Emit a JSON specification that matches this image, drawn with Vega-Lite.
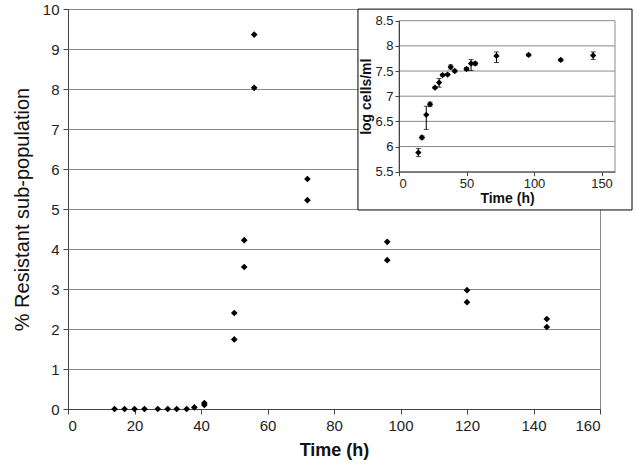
{
  "$schema": "https://vega.github.io/schema/vega-lite/v6.json",
  "width": 532,
  "height": 400,
  "autosize": "none",
  "padding": {"left": 68, "top": 9, "right": 36, "bottom": 57},
  "background": "white",
  "config": {
    "font": "Liberation Sans",
    "view": {"stroke": "#8a8a8a", "strokeWidth": 1},
    "axis": {"labelColor": "#222", "titleColor": "#111", "domainColor": "#444", "tickColor": "#444", "gridColor": "#8a8a8a", "gridOpacity": 1}
  },
  "datasets": {
    "main": [
      {"t": 14, "v": 0}, {"t": 17, "v": 0}, {"t": 20, "v": 0}, {"t": 23, "v": 0},
      {"t": 27, "v": 0}, {"t": 30, "v": 0}, {"t": 32.7, "v": 0}, {"t": 35.7, "v": 0},
      {"t": 38, "v": 0.04}, {"t": 41, "v": 0.1}, {"t": 41, "v": 0.15},
      {"t": 50, "v": 2.4}, {"t": 50, "v": 1.74},
      {"t": 53, "v": 4.22}, {"t": 53, "v": 3.55},
      {"t": 56, "v": 9.36}, {"t": 56, "v": 8.03},
      {"t": 72, "v": 5.75}, {"t": 72, "v": 5.22},
      {"t": 96, "v": 4.18}, {"t": 96, "v": 3.72},
      {"t": 120, "v": 2.97}, {"t": 120, "v": 2.67},
      {"t": 144, "v": 2.25}, {"t": 144, "v": 2.05}
    ],
    "inset": [
      {"t": 14.3, "m": 5.88, "lo": 5.8, "hi": 5.96},
      {"t": 17, "m": 6.18, "lo": 6.15, "hi": 6.21},
      {"t": 20.2, "m": 6.63, "lo": 6.34, "hi": 6.8},
      {"t": 23, "m": 6.84, "lo": 6.8, "hi": 6.88},
      {"t": 26.7, "m": 7.17, "lo": 7.15, "hi": 7.19},
      {"t": 29.7, "m": 7.27, "lo": 7.18, "hi": 7.35},
      {"t": 32.3, "m": 7.42, "lo": 7.4, "hi": 7.44},
      {"t": 36, "m": 7.43, "lo": 7.41, "hi": 7.45},
      {"t": 38.3, "m": 7.58, "lo": 7.54, "hi": 7.62},
      {"t": 41.3, "m": 7.5, "lo": 7.48, "hi": 7.52},
      {"t": 50, "m": 7.54, "lo": 7.51, "hi": 7.57},
      {"t": 53.4, "m": 7.65, "lo": 7.51, "hi": 7.73},
      {"t": 56.5, "m": 7.65, "lo": 7.62, "hi": 7.68},
      {"t": 72.2, "m": 7.8, "lo": 7.67, "hi": 7.88},
      {"t": 96, "m": 7.82, "lo": 7.8, "hi": 7.84},
      {"t": 119.8, "m": 7.72, "lo": 7.7, "hi": 7.74},
      {"t": 143.8, "m": 7.81, "lo": 7.73, "hi": 7.88}
    ],
    "insetGrid": [{"g": 6}, {"g": 6.5}, {"g": 7}, {"g": 7.5}, {"g": 8}]
  },
  "layer": [
    {
      "data": {"name": "main"},
      "mark": {"type": "point", "shape": "diamond", "filled": true, "color": "black", "size": 45, "opacity": 1},
      "encoding": {
        "x": {"field": "t", "type": "quantitative",
          "scale": {"domain": [0, 160], "nice": false},
          "axis": {"title": "Time (h)", "values": [0, 20, 40, 60, 80, 100, 120, 140, 160], "grid": false, "labelFontSize": 15, "titleFontSize": 18, "titleFontWeight": "bold", "tickSize": 5, "labelPadding": 4, "titlePadding": 8, "orient": "bottom"}},
        "y": {"field": "v", "type": "quantitative",
          "scale": {"domain": [0, 10], "nice": false},
          "axis": {"title": "% Resistant sub-population", "values": [0, 1, 2, 3, 4, 5, 6, 7, 8, 9, 10], "grid": true, "labelFontSize": 15, "titleFontSize": 20, "titleFontWeight": "normal", "tickSize": 5, "labelPadding": 4, "titlePadding": 10, "orient": "left"}}
      }
    },
    {
      "encoding": {
        "x": {"type": "quantitative",
          "scale": {"domain": [0, 160], "nice": false, "range": [331, 547]},
          "axis": {"title": "Time (h)", "values": [0, 50, 100, 150], "grid": false, "orient": "bottom", "offset": -237.3, "zindex": 2, "labelFontSize": 13, "titleFontSize": 14, "titleFontWeight": "bold", "tickSize": 4, "labelPadding": 2, "titlePadding": 1}},
        "y": {"type": "quantitative",
          "scale": {"domain": [5.5, 8.5], "nice": false, "zero": false, "range": [162.7, 11.7]},
          "axis": {"title": "log cells/ml", "values": [5.5, 6, 6.5, 7, 7.5, 8, 8.5], "format": "~g", "grid": false, "orient": "left", "offset": -331, "zindex": 2, "labelFontSize": 13, "titleFontSize": 14, "titleFontWeight": "bold", "tickSize": 4, "labelPadding": 2, "titlePadding": 1}}
      },
      "layer": [
        {
          "data": {"values": [{}]},
          "mark": {"type": "rect", "fill": "white", "stroke": "black", "strokeWidth": 1},
          "encoding": {
            "x": {"datum": -30.4, "type": "quantitative"},
            "x2": {"datum": 172.6},
            "y": {"datum": 8.73, "type": "quantitative"},
            "y2": {"datum": 4.74}
          }
        },
        {
          "data": {"values": [{}]},
          "mark": {"type": "rect", "fill": "white", "stroke": "#8a8a8a", "strokeWidth": 1},
          "encoding": {
            "x": {"datum": 0, "type": "quantitative"},
            "x2": {"datum": 160},
            "y": {"datum": 5.5, "type": "quantitative"},
            "y2": {"datum": 8.5}
          }
        },
        {
          "data": {"name": "insetGrid"},
          "mark": {"type": "rule", "color": "#8a8a8a", "strokeWidth": 1},
          "encoding": {
            "x": {"datum": 0, "type": "quantitative"},
            "x2": {"datum": 160},
            "y": {"field": "g", "type": "quantitative"}
          }
        },
        {
          "data": {"name": "inset"},
          "mark": {"type": "rule", "color": "black", "strokeWidth": 1},
          "encoding": {
            "x": {"field": "t", "type": "quantitative"},
            "y": {"field": "lo", "type": "quantitative"},
            "y2": {"field": "hi"}
          }
        },
        {
          "data": {"name": "inset"},
          "mark": {"type": "tick", "orient": "horizontal", "color": "black", "size": 5, "thickness": 1},
          "encoding": {
            "x": {"field": "t", "type": "quantitative"},
            "y": {"field": "lo", "type": "quantitative"}
          }
        },
        {
          "data": {"name": "inset"},
          "mark": {"type": "tick", "orient": "horizontal", "color": "black", "size": 5, "thickness": 1},
          "encoding": {
            "x": {"field": "t", "type": "quantitative"},
            "y": {"field": "hi", "type": "quantitative"}
          }
        },
        {
          "data": {"name": "inset"},
          "mark": {"type": "point", "shape": "diamond", "filled": true, "color": "black", "size": 40, "opacity": 1},
          "encoding": {
            "x": {"field": "t", "type": "quantitative"},
            "y": {"field": "m", "type": "quantitative"}
          }
        }
      ]
    }
  ],
  "resolve": {"scale": {"x": "independent", "y": "independent"}, "axis": {"x": "independent", "y": "independent"}}
}
